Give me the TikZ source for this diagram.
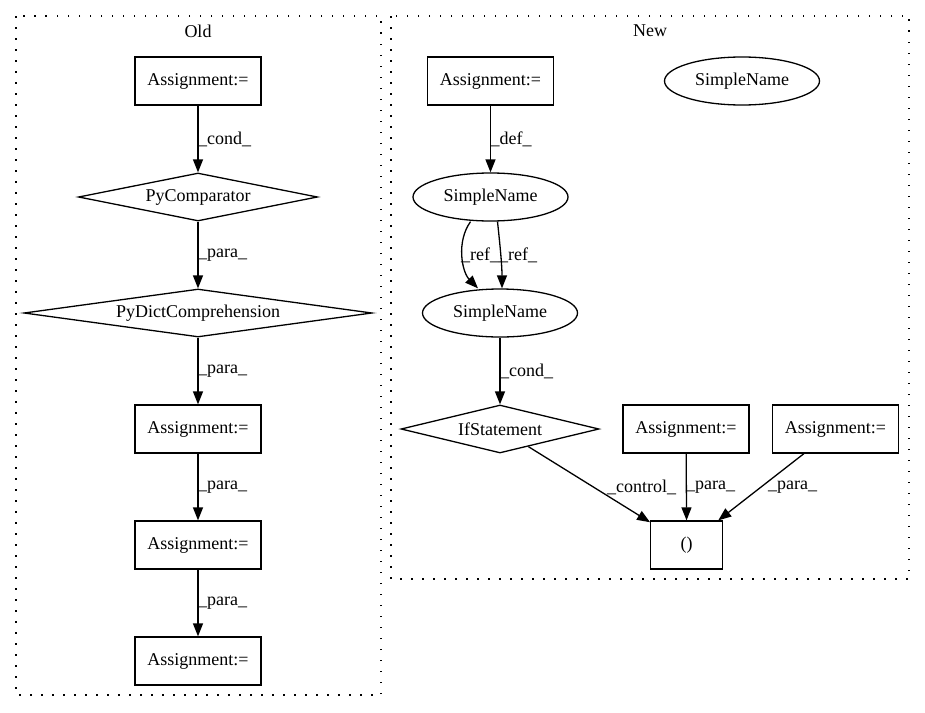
\documentclass[tikz,border=0pt]{standalone}
\usepackage{fontspec}
\setmainfont{Liberation Serif}
\usetikzlibrary{shapes.geometric,arrows.meta}
\begin{document}
\begin{tikzpicture}[x=1pt,y=-1pt,
  every node/.style={font=\fontsize{18}{21}\selectfont},
  box/.style={draw, line width=1.3pt, minimum width=126pt, minimum height=48pt, inner sep=0pt},
  ell/.style={draw, ellipse, line width=1.3pt, minimum width=155pt, minimum height=48pt, inner sep=0pt},
  dia/.style={draw, diamond, shape aspect=6, line width=1.3pt, inner sep=0pt, minimum height=48pt},
  arr/.style={-{Triangle[length=13pt,width=10pt]}, line width=1.3pt},
  lbl/.style={inner sep=0pt, anchor=west},
  cluster/.style={draw, line width=1.5pt, dash pattern=on 1.5pt off 9.5pt}]
\useasboundingbox (0,0) rectangle (925,712);
% clusters
\draw[cluster] (16,16) rectangle (381,695);
\draw[cluster] (391,16) rectangle (909,579);
\node[inner sep=0pt] (toldlabel) at (198,31) {Old};
\node[inner sep=0pt] (tnewlabel) at (650,31) {New};
% Old
\node[box] (o1) at (198,81) {Assignment:=};
\node[dia, minimum width=239pt] (o2) at (198,197) {PyComparator};
\node[dia, minimum width=348pt] (o3) at (198,313) {PyDictComprehension};
\node[box] (o4) at (198,429) {Assignment:=};
\node[box] (o5) at (198,545) {Assignment:=};
\node[box] (o6) at (198,661) {Assignment:=};
\draw[arr] (o1) -- (o2);
\draw[arr] (o2) -- (o3);
\draw[arr] (o3) -- (o4);
\draw[arr] (o4) -- (o5);
\draw[arr] (o5) -- (o6);
\node[lbl] (l1) at (198,139) {\_cond\_};
\node[lbl] (l2) at (198,255) {\_para\_};
\node[lbl] (l3) at (198,371) {\_para\_};
\node[lbl] (l4) at (198,487) {\_para\_};
\node[lbl] (l5) at (198,603) {\_para\_};
% New
\node[box] (n1) at (490.5,81) {Assignment:=};
\node[ell] (n2) at (742,81) {SimpleName};
\node[ell] (smA) at (490.5,197) {SimpleName};
\node[ell] (smB) at (500,313) {SimpleName};
\node[dia, minimum width=198pt] (ifs) at (500,429) {IfStatement};
\node[box] (n5) at (686,429) {Assignment:=};
\node[box] (n6) at (835.5,429) {Assignment:=};
\node[box, minimum width=72pt] (unit) at (686.7,545) {()};
\draw[arr] (n1) -- (smA);
\draw[arr] ([xshift=-20pt]smA.south) .. controls (456,242) and (462,272) .. ([xshift=-22pt]smB.north);
\draw[arr] ([xshift=7pt]smA.south) .. controls (500,245) and (502,265) .. ([xshift=2pt]smB.north);
\draw[arr] (smB) -- (ifs);
\draw[arr] (ifs) -- (unit);
\draw[arr] (n5) -- (unit);
\draw[arr] (n6) -- (unit);
\node[lbl] (m1) at (490.5,139) {\_def\_};
\node[lbl] (m2) at (461,255) {\_ref\_};
\node[lbl] (m3) at (499,255) {\_ref\_};
\node[lbl] (m4) at (500,371) {\_cond\_};
\node[lbl] (m5) at (607,487) {\_control\_};
\node[lbl] (m6) at (686,487) {\_para\_};
\node[lbl] (m7) at (768,487) {\_para\_};
\end{tikzpicture}
\end{document}
